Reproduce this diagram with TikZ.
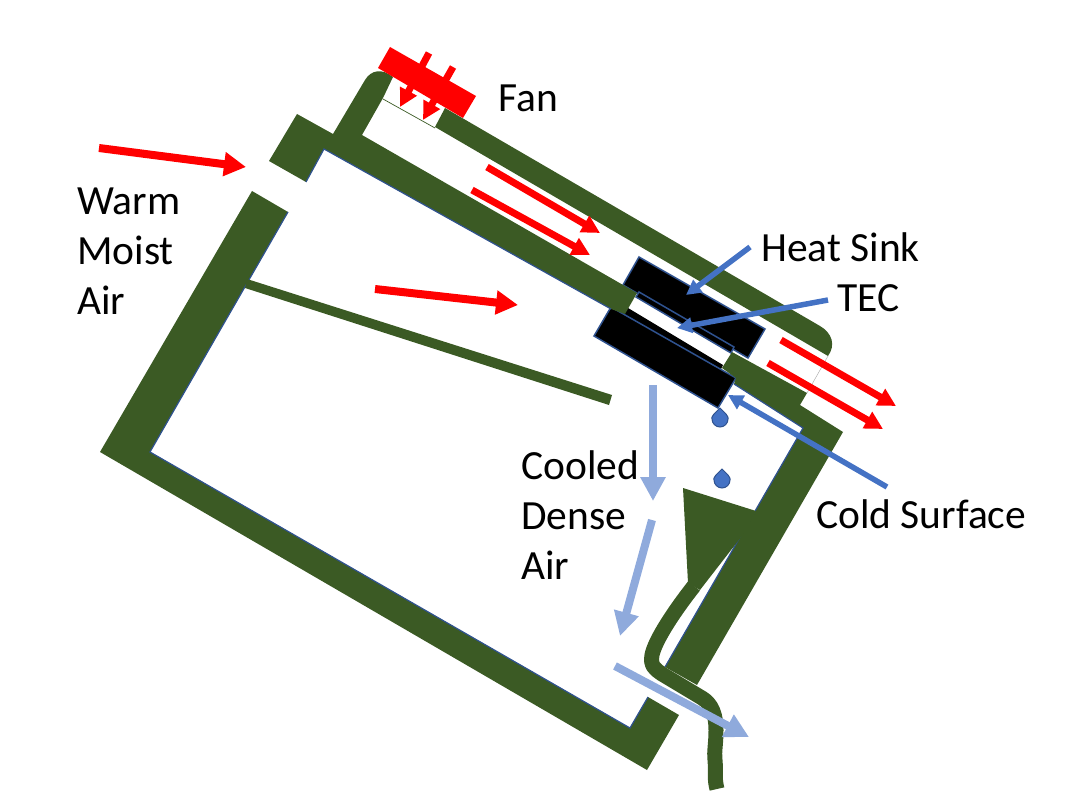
\documentclass[tikz,border=0pt]{standalone}
\usepackage{fontspec}
\setmainfont{Carlito}
\usetikzlibrary{arrows.meta}
\definecolor{wallgreen}{HTML}{3B5A24}
\definecolor{edgeblue}{HTML}{4472C4}
\definecolor{coolblue}{HTML}{8FAADC}
\definecolor{darkedge}{HTML}{2F528F}
\tikzset{
    wall/.style={fill=wallgreen, draw=none},
    inneredge/.style={darkedge, line width=1.2pt},
    block/.style={fill=black, draw=darkedge, line width=1.5pt, line join=miter},
    warmarrow/.style={red, line width=8pt, -{Triangle[width=23pt,length=22pt]}},
    ductarrow/.style={red, line width=7pt, -{Triangle[width=18pt,length=18pt]}},
    fanarrow/.style={red, line width=7pt, -{Triangle[width=18pt,length=18pt]}},
    coolarrow/.style={coolblue, line width=8pt, -{Triangle[width=24pt,length=24pt]}},
    notearrow/.style={edgeblue, line width=5.5pt, -{Triangle[width=15pt,length=15pt]}},
    drop/.style={fill=edgeblue, draw=darkedge, line width=1pt},
    lbl/.style={font=\fontsize{41.5}{50}\selectfont, align=left, anchor=west, inner sep=0pt, text=black}
}
\begin{document}
\begin{tikzpicture}[x=1pt, y=-1pt]
    \useasboundingbox (0, 0) rectangle (1074, 805);

    % arrow ends
    \coordinate (warmA) at (99, 148);    \coordinate (warmB) at (246, 167);
    \coordinate (warmC) at (375, 289);   \coordinate (warmD) at (518, 305);
    \coordinate (ductA) at (487, 167);   \coordinate (ductB) at (600, 233);
    \coordinate (ductC) at (472, 190);   \coordinate (ductD) at (590, 255);
    \coordinate (outA) at (781, 340);    \coordinate (outB) at (896, 406);
    \coordinate (outC) at (768, 363);    \coordinate (outD) at (883, 429);
    \coordinate (fanA) at (429, 53);     \coordinate (fanB) at (400, 107);
    \coordinate (fanC) at (453, 67);     \coordinate (fanD) at (423, 120);
    \coordinate (coolA) at (653, 385);   \coordinate (coolB) at (653, 501);
    \coordinate (coolC) at (652, 520);   \coordinate (coolD) at (620, 636);
    \coordinate (coolE) at (615, 666);   \coordinate (coolF) at (749, 737);
    \coordinate (sinkA) at (750, 247);   \coordinate (sinkB) at (686, 295);
    \coordinate (tecA) at (828, 300);    \coordinate (tecB) at (677, 328);
    \coordinate (coldA) at (887, 487);   \coordinate (coldB) at (728, 395);

    % heat sink, TEC and cold block
    \draw[block] (639, 257) -- (765, 329) -- (748, 358) -- (623, 285) -- cycle;
    \fill[white] (639, 293) -- (733, 347) -- (722, 368) -- (628, 309) -- cycle;
    \draw[block] (639, 292) -- (734, 347) -- (731, 353) -- (636, 297) -- cycle;
    \fill[black] (628, 308) -- (723, 365) -- (720, 371) -- (620, 312) -- cycle;
    \draw[block] (611, 307) -- (736, 378) -- (718, 408) -- (594, 336) -- cycle;

    % box walls
    \fill[wall] (252, 191) -- (288, 212) -- (150, 452) -- (630, 728) -- (648, 697) -- (679, 715) -- (647, 770) -- (100, 452) -- cycle;
    \draw[inneredge] (288, 212) -- (150, 452) -- (630, 728) -- (648, 697);
    \fill[wall] (269, 161) -- (297, 114) -- (333, 134) -- (365, 80) .. controls (371, 70) and (382, 68) .. (393, 77)
        -- (383, 98) -- (362, 135) -- (637, 293) -- (625, 314) -- (611, 309) -- (324, 149) -- (306, 182) -- cycle;
    \draw[inneredge] (306, 182) -- (324, 149) -- (611, 309);
    \fill[wall] (732, 352) -- (807, 393) -- (800, 405) -- (843, 432) -- (697, 685) -- (665, 667) -- (803, 428) -- (734, 384) -- (736, 378) -- (722, 368) -- cycle;
    \draw[inneredge] (665, 667) -- (803, 428) -- (734, 384);
    \fill[wall] (445, 108) -- (820, 326) .. controls (832, 333) and (836, 345) .. (828, 356) -- (435, 127) -- cycle;

    % thin lines over the duct openings
    \draw[wallgreen, line width=0.7pt] (383, 99) -- (435, 128);
    \draw[gray!60, line width=0.5pt] (828, 356) -- (807, 393);

    % baffle
    \fill[wall] (247, 279) -- (612, 395) -- (609, 405) -- (245, 288) -- cycle;

    % funnel and hose
    \fill[wall] (683, 488) -- (756, 511) -- (745, 532) -- (700, 590) -- (688, 583) -- cycle;
    \draw[wallgreen, line width=15pt, line join=round]
        (694, 586) .. controls (675, 610) and (655, 640) .. (652, 655)
        .. controls (650, 666) and (655, 669) .. (662, 674) -- (702, 698)
        .. controls (712, 704) and (716, 715) .. (716, 730)
        .. controls (716, 745) and (714, 750) .. (715, 760)
        .. controls (716, 770) and (714, 778) .. (717, 789);

    % fan
    \fill[red] (390, 47) -- (476, 96) -- (463, 118) -- (378, 68) -- cycle;
    \draw[fanarrow] (fanA) -- (fanB);
    \draw[fanarrow] (fanC) -- (fanD);

    % air flow
    \draw[warmarrow] (warmA) -- (warmB);
    \draw[warmarrow] (warmC) -- (warmD);
    \draw[ductarrow] (ductA) -- (ductB);
    \draw[ductarrow] (ductC) -- (ductD);
    \draw[ductarrow] (outA) -- (outB);
    \draw[ductarrow] (outC) -- (outD);
    \draw[coolarrow] (coolA) -- (coolB);
    \draw[coolarrow] (coolC) -- (coolD);
    \draw[coolarrow] (coolE) -- (coolF);

    % drops
    \draw[drop] (720, 408) -- (726, 414) .. controls (729, 418) and (728, 419) .. (728, 419) arc (0:180:8) .. controls (712, 418) and (711, 418) .. (714, 414) -- cycle;
    \draw[drop] (722, 469) -- (728, 475) .. controls (731, 479) and (730, 480) .. (730, 480) arc (0:180:8) .. controls (714, 479) and (713, 479) .. (716, 475) -- cycle;

    % pointers
    \draw[notearrow] (sinkA) -- (sinkB);
    \draw[notearrow] (tecA) -- (tecB);
    \draw[notearrow] (coldA) -- (coldB);

    \node[lbl] (fan) at (498, 98) {Fan};
    \node[lbl] (moist) at (77, 251) {Warm\\Moist\\Air};
    \node[lbl] (sink) at (761, 247) {Heat Sink};
    \node[lbl] (tec) at (837, 298) {TEC};
    \node[lbl] (cooled) at (521, 515) {Cooled\\Dense\\Air};
    \node[lbl] (cold) at (816, 514) {Cold Surface};
\end{tikzpicture}
\end{document}
